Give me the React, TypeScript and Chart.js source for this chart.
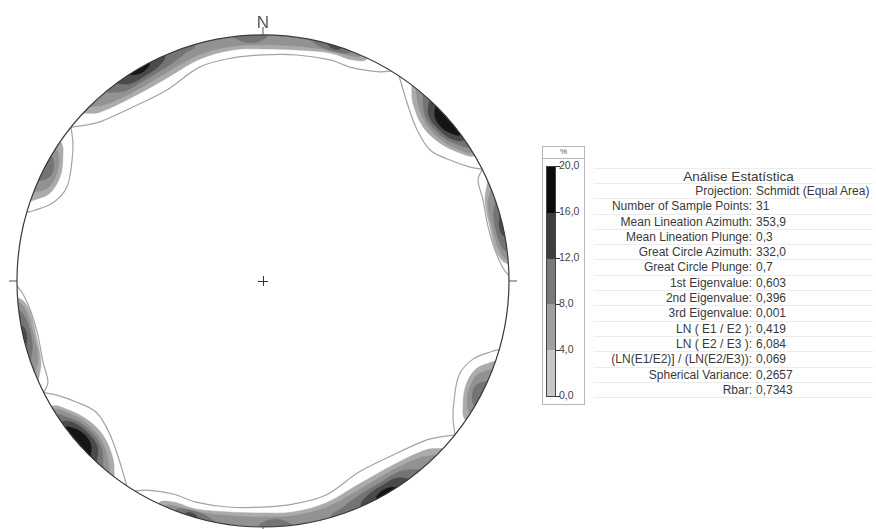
import React, { useEffect, useRef } from 'react';
import { Chart, registerables } from 'chart.js';

Chart.register(...registerables);

type Pt = [number, number]; // [azimuth in degrees, radius on the unit (equal-area) net]

// ---- Contoured density clusters (lower hemisphere, Schmidt net) ----
// Each cluster: [outer contour line], [level 1 fills], [level 2], [level 3], [level 4], [level 5]
// Every polygon is the inner boundary of a contour, running from the primitive circle back to it.
const northBand: Pt[][][] = [
  [[[308.7, 1], [311.6, 0.956], [314.3, 0.926], [323.2, 0.883], [333.3, 0.869], [343.6, 0.907], [352.3, 0.915], [0, 0.919], [8.6, 0.929], [16.9, 0.939], [22.9, 0.94], [29.2, 0.974], [31.4, 1]]],
  [[[312.9, 1], [316, 0.954], [324.8, 0.916], [334.7, 0.913], [344.2, 0.938], [352.6, 0.947], [0, 0.943], [8.4, 0.949], [16.4, 0.966], [22.2, 0.97], [25.2, 1]]],
  [[[315, 1], [318.5, 0.96], [325.5, 0.932], [334, 0.932], [344, 0.955], [352, 0.962], [0, 0.96], [8, 0.964], [16, 0.976], [21, 0.982], [23.5, 1]]],
  [[[320, 1], [324, 0.955], [329, 0.948], [336, 0.955], [341, 0.978], [344, 1]], [[353, 1], [355.5, 0.974], [358.5, 0.972], [1, 1]], [[11, 1], [14, 0.98], [18, 0.978], [21, 1]]],
  [[[323.5, 1], [326, 0.967], [330, 0.962], [334, 0.97], [336.5, 1]], [[15, 1], [16.8, 0.986], [18.5, 1]]],
  [[[327, 1], [328.5, 0.985], [330.5, 0.981], [332.5, 1]]],
];
const northEast: Pt[][][] = [
  [[[33.6, 1], [39, 0.931], [45.6, 0.877], [51.9, 0.863], [57.1, 0.905], [61.2, 0.961], [63, 1]]],
  [[[37.2, 1], [40.1, 0.946], [46.1, 0.903], [52.1, 0.912], [57, 0.955], [59.4, 1]]],
  [[[38.5, 1], [42, 0.948], [47, 0.918], [52.5, 0.928], [56.5, 0.964], [58.5, 1]]],
  [[[40.5, 1], [44, 0.945], [48, 0.93], [52.5, 0.943], [55.5, 0.974], [57, 1]]],
  [[[42.5, 1], [45, 0.952], [49, 0.943], [53, 0.96], [55, 1]]],
  [[[44.5, 1], [46.5, 0.965], [49.5, 0.958], [52, 0.974], [53.5, 1]]],
];
const east: Pt[][][] = [
  [[[63, 1], [64.8, 0.966], [69.8, 0.953], [76.5, 0.941], [82.4, 0.951], [86.9, 0.977], [88.8, 1]]],
  [[[66, 1], [69.9, 0.961], [76.6, 0.948], [83.2, 0.958], [86, 1]]],
  [[[68, 1], [71, 0.967], [77, 0.958], [82.5, 0.969], [85, 1]]],
  [[[71, 1], [74, 0.975], [77.5, 0.969], [81, 0.977], [83, 1]]],
  [[[74.5, 1], [77, 0.985], [79.5, 1]]],
];
const southEast: Pt[][][] = [
  [[[106.2, 1], [107, 0.976], [110.4, 0.911], [115.6, 0.884], [122.4, 0.919], [126, 0.955], [128.7, 1]]],
  [[[109, 1], [109.6, 0.984], [112.4, 0.937], [117.1, 0.927], [121.8, 0.957], [124.5, 1]]],
  [[[111, 1], [113.5, 0.952], [117, 0.945], [120.5, 0.963], [122.5, 1]]],
  [[[114, 1], [116, 0.965], [118.5, 0.968], [120.5, 1]]],
];
const southBand: Pt[][][] = [
  [[[128.7, 1], [131.6, 0.956], [134.3, 0.926], [143.2, 0.883], [153.3, 0.869], [163.6, 0.907], [172.3, 0.915], [180, 0.919], [188.6, 0.929], [196.9, 0.939], [202.9, 0.94], [209.2, 0.974], [211.4, 1]]],
  [[[132.9, 1], [136, 0.954], [144.8, 0.916], [154.7, 0.913], [164.2, 0.938], [172.6, 0.947], [180, 0.943], [188.4, 0.949], [196.4, 0.966], [202.2, 0.97], [205.2, 1]]],
  [[[135, 1], [138.5, 0.96], [145.5, 0.932], [154, 0.932], [164, 0.955], [172, 0.962], [180, 0.96], [188, 0.964], [196, 0.976], [201, 0.982], [203.5, 1]]],
  [[[140, 1], [144, 0.955], [149, 0.948], [156, 0.955], [161, 0.978], [164, 1]], [[173, 1], [175.5, 0.974], [178.5, 0.972], [181, 1]], [[191, 1], [194, 0.98], [198, 0.978], [201, 1]]],
  [[[143.5, 1], [146, 0.967], [150, 0.962], [154, 0.97], [156.5, 1]], [[195, 1], [196.8, 0.986], [198.5, 1]]],
  [[[147, 1], [148.5, 0.985], [150.5, 0.981], [152.5, 1]]],
];
const southWest: Pt[][][] = [
  [[[213.6, 1], [219, 0.931], [225.6, 0.877], [231.9, 0.863], [237.1, 0.905], [241.2, 0.961], [243, 1]]],
  [[[217.2, 1], [220.1, 0.946], [226.1, 0.903], [232.1, 0.912], [237, 0.955], [239.4, 1]]],
  [[[218.5, 1], [222, 0.948], [227, 0.918], [232.5, 0.928], [236.5, 0.964], [238.5, 1]]],
  [[[220.5, 1], [224, 0.945], [228, 0.93], [232.5, 0.943], [235.5, 0.974], [237, 1]]],
  [[[222.5, 1], [225, 0.952], [229, 0.943], [233, 0.96], [235, 1]]],
  [[[224.5, 1], [226.5, 0.965], [229.5, 0.958], [232, 0.974], [233.5, 1]]],
];
const west: Pt[][][] = [
  [[[243, 1], [244.8, 0.966], [249.8, 0.953], [256.5, 0.941], [262.4, 0.951], [266.9, 0.977], [268.8, 1]]],
  [[[246, 1], [249.9, 0.961], [256.6, 0.948], [263.2, 0.958], [266, 1]]],
  [[[248, 1], [251, 0.967], [257, 0.958], [262.5, 0.969], [265, 1]]],
  [[[251, 1], [254, 0.975], [257.5, 0.969], [261, 0.977], [263, 1]]],
  [[[254.5, 1], [257, 0.985], [259.5, 1]]],
];
const northWest: Pt[][][] = [
  [[[286.2, 1], [287, 0.976], [290.4, 0.911], [295.6, 0.884], [302.4, 0.919], [306, 0.955], [308.7, 1]]],
  [[[289, 1], [289.6, 0.984], [292.4, 0.937], [297.1, 0.927], [301.8, 0.957], [304.5, 1]]],
  [[[291, 1], [293.5, 0.952], [297, 0.945], [300.5, 0.963], [302.5, 1]]],
  [[[294, 1], [296, 0.965], [298.5, 0.968], [300.5, 1]]],
];

const clusters = [northBand, northEast, east, southEast, southBand, southWest, west, northWest];
const contourFills = ['#ababab', '#929292', '#747474', '#4a4a4a', '#151515'];
const contourLineColor = '#a3a3a3';

// ---- colour scale (%) ----
const scaleTicks = [20, 16, 12, 8, 4, 0];
const scaleTickLabels = ['20,0', '16,0', '12,0', '8,0', '4,0', '0,0'];
const scaleBandColors = ['#0b0b0b', '#3e3e3e', '#7a7a7a', '#a0a0a0', '#c7c7c7'];

// ---- statistics table ----
const statTitle = 'Análise Estatística';
const statLabels = [
  'Projection:', 'Number of Sample Points:', 'Mean Lineation Azimuth:', 'Mean Lineation Plunge:',
  'Great Circle Azimuth:', 'Great Circle Plunge:', '1st Eigenvalue:', '2nd Eigenvalue:', '3rd Eigenvalue:',
  'LN ( E1 / E2 ):', 'LN ( E2 / E3 ):', '(LN(E1/E2)] / (LN(E2/E3)):', 'Spherical Variance:', 'Rbar:',
];
const statValues = [
  'Schmidt (Equal Area)', '31', '353,9', '0,3', '332,0', '0,7', '0,603', '0,396', '0,001',
  '0,419', '6,084', '0,069', '0,2657', '0,7343',
];

const FONT = '"Liberation Sans", Arial, sans-serif';

const toXY = ([az, r]: Pt) => {
  const a = (az * Math.PI) / 180;
  return { x: r * Math.sin(a), y: r * Math.cos(a) };
};

// close a contour region outside the primitive circle (the outside part is clipped away)
const closedRegion = (pts: Pt[]) => {
  const data = pts.map(toXY);
  const a0 = pts[0][0];
  const a1 = pts[pts.length - 1][0];
  const span = (a1 - a0 + 360) % 360;
  const steps = Math.max(1, Math.ceil(span / 20));
  for (let i = 0; i <= steps; i++) data.push(toXY([a1 - (span * i) / steps, 1.3]));
  return data;
};

const netFrame = {
  id: 'netFrame',
  beforeDatasetsDraw(chart: any) {
    const { ctx, scales } = chart;
    const cx = scales.x.getPixelForValue(0);
    const cy = scales.y.getPixelForValue(0);
    const r = scales.x.getPixelForValue(1) - cx;
    ctx.save();
    ctx.beginPath();
    ctx.arc(cx, cy, r, 0, Math.PI * 2);
    ctx.clip();
  },
  afterDatasetsDraw(chart: any) {
    const { ctx, scales } = chart;
    ctx.restore();
    const cx = scales.x.getPixelForValue(0);
    const cy = scales.y.getPixelForValue(0);
    const r = scales.x.getPixelForValue(1) - cx;
    ctx.save();
    ctx.strokeStyle = '#3a3a3a';
    ctx.lineWidth = 1.2;
    ctx.beginPath();
    ctx.arc(cx, cy, r, 0, Math.PI * 2);
    ctx.stroke();
    ctx.strokeStyle = '#555';
    ctx.lineWidth = 1;
    [[0, -1], [1, 0], [0, 1], [-1, 0]].forEach(([dx, dy]) => {
      ctx.beginPath();
      ctx.moveTo(cx + dx * r, cy + dy * r);
      ctx.lineTo(cx + dx * (r + 8), cy + dy * (r + 8));
      ctx.stroke();
    });
    ctx.strokeStyle = '#333';
    ctx.beginPath();
    ctx.moveTo(cx - 5, cy + 0.5);
    ctx.lineTo(cx + 5, cy + 0.5);
    ctx.moveTo(cx + 0.5, cy - 5);
    ctx.lineTo(cx + 0.5, cy + 5);
    ctx.stroke();
    ctx.fillStyle = '#555';
    ctx.font = `17px ${FONT}`;
    ctx.textAlign = 'center';
    ctx.textBaseline = 'alphabetic';
    ctx.fillText('N', cx, cy - r - 7);
    ctx.restore();
  },
};

export default function App() {
  const ref = useRef<HTMLCanvasElement>(null);

  useEffect(() => {
    const datasets: any[] = [];
    clusters.forEach((levels) =>
      levels.forEach((polys, lv) =>
        polys.forEach((pts) => {
          if (lv === 0) {
            datasets.push({
              data: pts.map(toXY),
              borderColor: contourLineColor,
              borderWidth: 1.2,
              fill: false,
              pointRadius: 0,
              tension: 0.35,
              order: 0,
            });
          } else {
            datasets.push({
              data: closedRegion(pts),
              backgroundColor: contourFills[lv - 1],
              borderColor: contourFills[lv - 1],
              borderWidth: 0.5,
              fill: 'shape',
              pointRadius: 0,
              tension: 0.35,
              order: 10 - lv,
            });
          }
        })
      )
    );

    const chart = new Chart(ref.current!, {
      type: 'line',
      data: { datasets },
      options: {
        animation: false,
        responsive: false,
        maintainAspectRatio: false,
        layout: { padding: 0 },
        events: [],
        plugins: { legend: { display: false }, tooltip: { enabled: false } },
        scales: {
          x: { type: 'linear', min: -1.069, max: 1.126, display: false },
          y: { type: 'linear', min: -1.008, max: 1.142, display: false },
        },
      },
      plugins: [netFrame],
    } as any);
    return () => chart.destroy();
  }, []);

  const barTop = 166;
  const barH = 231;
  const rowH = 15.3;

  return (
    <div style={{ position: 'absolute', left: 0, top: 0, width: 876, height: 529, background: '#fff', fontFamily: FONT, color: '#333' }}>
      <canvas ref={ref} width={540} height={529} style={{ position: 'absolute', left: 0, top: 0, width: 540, height: 529 }} />

      {/* colour scale */}
      <div style={{ position: 'absolute', left: 542, top: 146, width: 43, height: 259, border: '1px solid #b8b8b8', boxSizing: 'border-box' }}>
        <div style={{ height: 11, borderBottom: '1px solid #b8b8b8', fontSize: 8, lineHeight: '10px', textAlign: 'center', color: '#555' }}>%</div>
      </div>
      <div style={{ position: 'absolute', left: 546, top: barTop, width: 10, height: barH, border: '1px solid #444', boxSizing: 'border-box', display: 'flex', flexDirection: 'column' }}>
        {scaleBandColors.map((c, i) => (
          <div key={i} style={{ flex: 1, background: c }} />
        ))}
      </div>
      {scaleTicks.map((v, i) => {
        const y = barTop + ((20 - v) / 20) * (barH - 1);
        return (
          <React.Fragment key={i}>
            <div style={{ position: 'absolute', left: 555, top: y, width: 5, height: 1, background: '#333' }} />
            <div style={{ position: 'absolute', left: 559, top: y - 7, fontSize: 10.5, lineHeight: '13px', color: '#444' }}>{scaleTickLabels[i]}</div>
          </React.Fragment>
        );
      })}

      {/* statistics table */}
      <div style={{ position: 'absolute', left: 594, top: 168, width: 279, fontSize: 12, color: '#3a3a3a' }}>
        <div style={{ height: 16, lineHeight: '16px', textAlign: 'center', fontSize: 13.5, paddingLeft: 10, borderTop: '1px solid #ececec', borderBottom: '1px solid #ececec', boxSizing: 'border-box' }}>{statTitle}</div>
        {statLabels.map((l, i) => (
          <div key={i} style={{ display: 'flex', height: rowH, lineHeight: `${rowH - 1}px`, borderBottom: '1px solid #ececec', boxSizing: 'border-box', whiteSpace: 'nowrap' }}>
            <span style={{ width: 158, flex: 'none', textAlign: 'right' }}>{l}</span>
            <span style={{ paddingLeft: 4 }}>{statValues[i]}</span>
          </div>
        ))}
      </div>
    </div>
  );
}
